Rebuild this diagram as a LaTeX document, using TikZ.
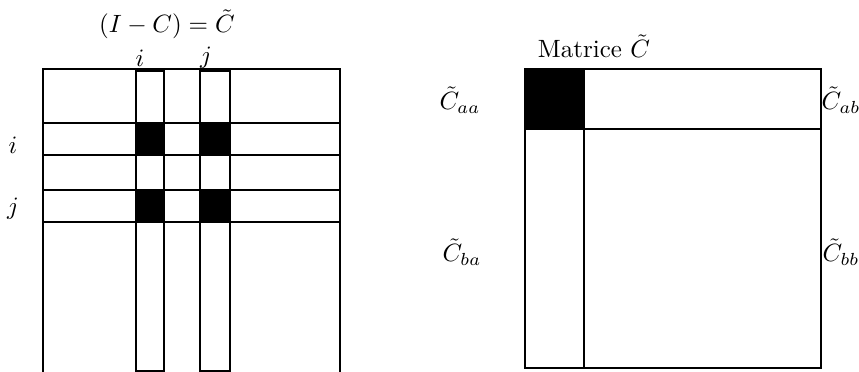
\documentclass[tikz,border=0pt]{standalone}
\begin{document}
\begin{tikzpicture}[x=0.4pt,y=-0.4pt,
  ln/.style={draw=black,line width=0.8pt},
  blk/.style={fill=black,draw=black,line width=0.8pt},
  lbl/.style={inner sep=0pt}]
\useasboundingbox (0,0) rectangle (859,372);
% ---------- left diagram ----------
\draw[ln] (43,372) -- (43,69) -- (340,69) -- (340,372);
% column strips
\draw[ln] (136,71) rectangle (164,371);
\draw[ln] (200,71) rectangle (230,371);
% row strips
\draw[ln,fill=white] (43,123) rectangle (340,155);
\draw[ln,fill=white] (43,190) rectangle (340,222);
% black intersections
\draw[blk] (136,123) rectangle (164,155);
\draw[blk] (200,123) rectangle (230,155);
\draw[blk] (136,190) rectangle (164,222);
\draw[blk] (200,190) rectangle (230,222);
% labels
\node[lbl] (t1) at (167,24) {$(I-C)=\tilde{C}$};
\node[lbl] (ci) at (140,58) {$i$};
\node[lbl] (cj) at (206,58) {$j$};
\node[lbl] (ri) at (13,145) {$i$};
\node[lbl] (rj) at (13,209) {$j$};
% ---------- right diagram ----------
\draw[ln] (525,69) rectangle (821,368);
\draw[blk] (525,69) rectangle (584,129);
\draw[ln] (584,129) -- (584,368);
\draw[ln] (584,129) -- (821,129);
\node[lbl] (t2) at (594,46) {Matrice $\tilde{C}$};
\node[lbl] (caa) at (460,100) {$\tilde{C}_{aa}$};
\node[lbl] (cab) at (841,100) {$\tilde{C}_{ab}$};
\node[lbl] (cba) at (462,252) {$\tilde{C}_{ba}$};
\node[lbl] (cbb) at (841,252) {$\tilde{C}_{bb}$};
\end{tikzpicture}
\end{document}
